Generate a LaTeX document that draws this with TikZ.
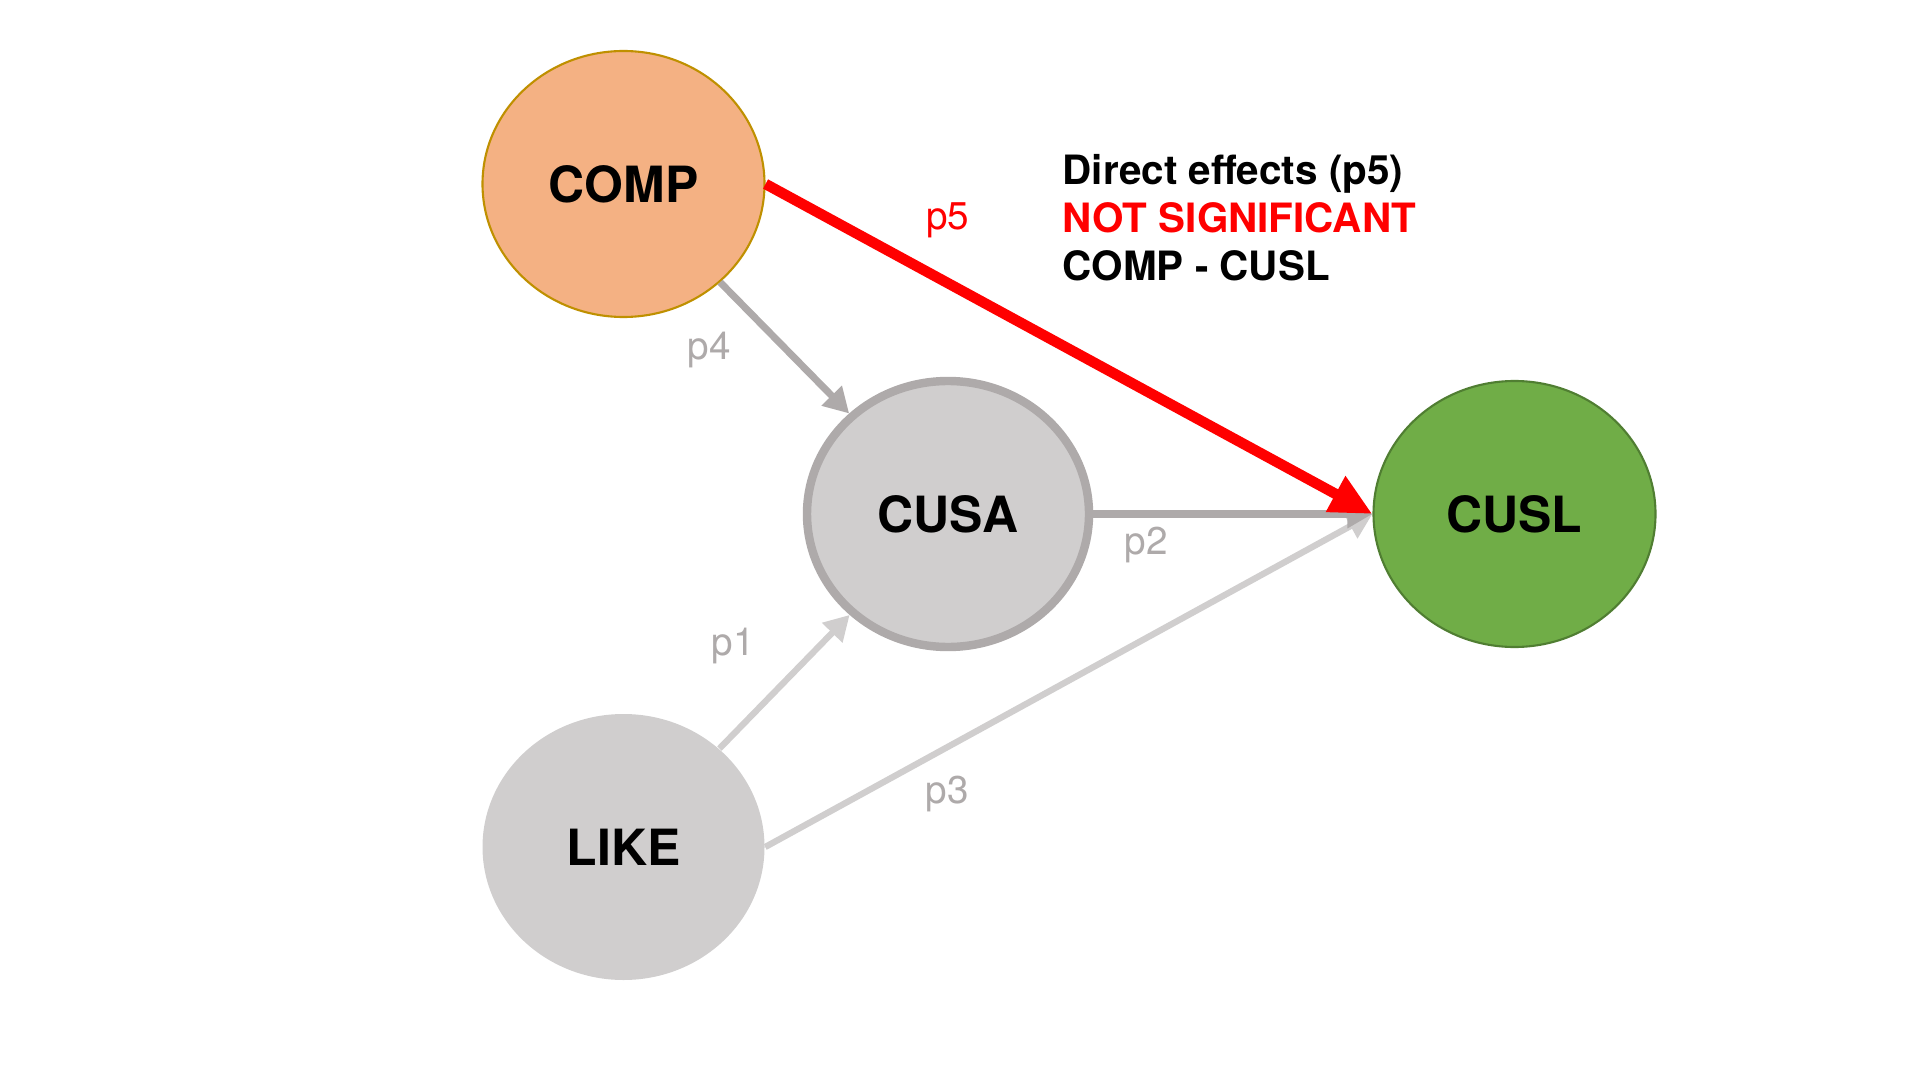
\documentclass[tikz,border=0pt]{standalone}
\usepackage{fontspec}
\setmainfont{TeX Gyre Heros}
\usepackage{tikz}
\usetikzlibrary{positioning, arrows.meta, shapes.geometric}
\usepackage{xcolor}
\definecolor{compfill}{HTML}{F4B183}
\definecolor{compline}{HTML}{BF9000}
\definecolor{greyfill}{HTML}{D0CECE}
\definecolor{greyline}{HTML}{AEAAAA}
\definecolor{cuslfill}{HTML}{70AD47}
\definecolor{cuslline}{HTML}{507E32}
\definecolor{nsred}{HTML}{FF0000}

\tikzset{
  construct/.style={ellipse, minimum width=2.82cm, minimum height=2.66cm, inner sep=0pt,
    font=\fontsize{14.2}{16}\selectfont\bfseries},
  effect/.style={line width=2pt, color=greyline, -{Triangle[length=0.25cm, width=0.27cm]}},
  weakeffect/.style={effect, line width=1.8pt, color=greyfill},
  directeffect/.style={line width=3pt, color=nsred, -{Triangle[length=0.42cm, width=0.38cm]}},
  plabel/.style={inner sep=0pt, text=greyline, font=\fontsize{11}{13}\selectfont},
}

\begin{document}
\begin{tikzpicture}
\useasboundingbox (0,0) rectangle (19.2,-10.8);
\node[construct, fill=compfill, draw=compline, line width=0.6pt] (COMP) at (6.235,-1.84) {COMP};
\node[construct, fill=greyfill, draw=greyline, line width=2.4pt, on grid, below right=3.3cm and 3.245cm of COMP] (CUSA) {CUSA};
\node[construct, fill=cuslfill, draw=cuslline, line width=0.6pt, on grid, right=5.665cm of CUSA] (CUSL) {CUSL};
\node[construct, fill=greyfill, on grid, below=6.63cm of COMP] (LIKE) {LIKE};
\node[anchor=north west, inner sep=0pt, align=left, font=\fontsize{11.5}{13.6}\selectfont\bfseries] (note) at (10.62,-1.54)
  {Direct effects (p5)\\\textcolor{nsred}{NOT SIGNIFICANT}\\COMP - CUSL};
\draw
  (COMP) edge[effect] node[plabel, pos=0.52, left=0.53cm] {p4} (CUSA)
  (LIKE) edge[weakeffect] node[plabel, pos=0.77, left=0.62cm] {p1} (CUSA)
  (LIKE.east) edge[weakeffect] node[plabel, pos=0.3, below=0.26cm] {p3} (CUSL.west)
  (CUSA.east) edge[effect] node[plabel, pos=0.19, below=0.1cm] {p2} (CUSL.west)
  (COMP.east) edge[directeffect] node[plabel, text=nsred, pos=0.3, above=0.4cm] {p5} (CUSL.west);
\end{tikzpicture}
\end{document}
